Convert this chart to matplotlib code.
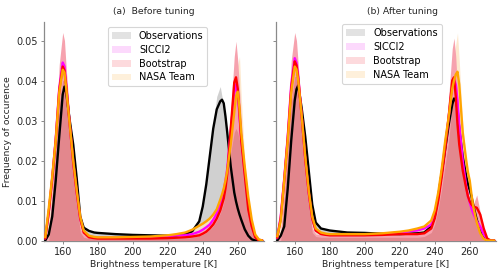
import matplotlib
matplotlib.use("Agg")
import matplotlib.pyplot as plt
from matplotlib.patches import Patch

# Brightness temperature grid [K]
tb = [150, 152, 154, 156, 158, 160, 161, 162, 164, 166, 168, 170, 172, 175, 178,
      180, 190, 200, 210, 220, 225, 230, 234, 238, 240, 242, 244, 246, 248, 250,
      251, 252, 253, 254, 256, 258, 259, 260, 261, 262, 264, 266, 268, 270, 272, 274]

# ---------------- (a) Before tuning ----------------
a_obs = [0.0, 0.0015, 0.006, 0.015, 0.026,
         0.0365, 0.0385, 0.037, 0.030, 0.024,
         0.0155, 0.006, 0.0032, 0.0024, 0.002,
         0.0019, 0.0016, 0.0014, 0.0013, 0.0012,
         0.0013, 0.0016, 0.0023, 0.0048, 0.0085,
         0.014, 0.021, 0.028, 0.0328, 0.0348,
         0.0352, 0.0343, 0.031, 0.027, 0.0185,
         0.012, 0.0098, 0.008, 0.0065, 0.0052,
         0.0028, 0.0012, 0.0003, 0.0, 0.0, 0.0]
a_sicci = [0.0005, 0.007, 0.0155, 0.0255, 0.038,
           0.0445, 0.0435, 0.039, 0.029, 0.0195,
           0.012, 0.0055, 0.0022, 0.001, 0.0008,
           0.0007, 0.0007, 0.0007, 0.0008, 0.001,
           0.0013, 0.0013, 0.0016, 0.0022, 0.0027,
           0.0033, 0.004, 0.0052, 0.0068, 0.009,
           0.0105, 0.0125, 0.015, 0.018, 0.0275,
           0.0368, 0.039, 0.0365, 0.031, 0.0255,
           0.017, 0.009, 0.004, 0.001, 0.0002, 0.0]
a_boot = [0.0005, 0.007, 0.0155, 0.025, 0.0375,
          0.0435, 0.0425, 0.0385, 0.029, 0.0195,
          0.012, 0.0055, 0.002, 0.0008, 0.0006,
          0.0005, 0.0005, 0.0005, 0.0005, 0.0006,
          0.0007, 0.0008, 0.001, 0.0013, 0.0017,
          0.0022, 0.003, 0.004, 0.0055, 0.0075,
          0.009, 0.0105, 0.013, 0.0165, 0.028,
          0.0395, 0.0408, 0.038, 0.032, 0.025,
          0.0165, 0.0078, 0.0035, 0.0008, 0.0, 0.0]
a_nasa = [0.0008, 0.008, 0.016, 0.025, 0.037,
          0.0427, 0.042, 0.038, 0.029, 0.020,
          0.0125, 0.006, 0.0025, 0.0012, 0.0009,
          0.0008, 0.0008, 0.0009, 0.001, 0.0013,
          0.0016, 0.002, 0.0027, 0.0037, 0.0042,
          0.0048, 0.0055, 0.0065, 0.0078, 0.0102,
          0.0115, 0.013, 0.015, 0.0175, 0.024,
          0.032, 0.036, 0.0372, 0.033, 0.027,
          0.0185, 0.011, 0.0052, 0.0015, 0.0003, 0.0]
# shaded histogram envelopes
a_obs_hist = [0.0, 0.001, 0.006, 0.016, 0.028,
              0.039, 0.040, 0.038, 0.031, 0.024,
              0.015, 0.006, 0.0035, 0.0025, 0.002,
              0.0019, 0.0016, 0.0014, 0.0013, 0.0012,
              0.0013, 0.0016, 0.0024, 0.005, 0.009,
              0.015, 0.022, 0.029, 0.036, 0.0385,
              0.036, 0.034, 0.031, 0.027, 0.0185,
              0.012, 0.010, 0.0085, 0.007, 0.0055,
              0.003, 0.0012, 0.0003, 0.0, 0.0, 0.0]
a_boot_hist = [0.0, 0.002, 0.013, 0.027, 0.044,
               0.052, 0.050, 0.043, 0.031, 0.021,
               0.012, 0.003, 0.0015, 0.0008, 0.0006,
               0.0006, 0.0006, 0.0006, 0.0007, 0.0008,
               0.001, 0.0012, 0.0015, 0.002, 0.0025,
               0.003, 0.004, 0.005, 0.007, 0.009,
               0.011, 0.013, 0.016, 0.020, 0.032,
               0.046, 0.0498, 0.045, 0.038, 0.030,
               0.018, 0.009, 0.004, 0.001, 0.0, 0.0]
a_nasa_hist = [0.0005, 0.007, 0.016, 0.026, 0.040,
               0.047, 0.046, 0.041, 0.030, 0.020,
               0.012, 0.004, 0.002, 0.001, 0.0008,
               0.0008, 0.0008, 0.0009, 0.001, 0.0013,
               0.0016, 0.002, 0.0027, 0.0037, 0.0042,
               0.0048, 0.0055, 0.0065, 0.008, 0.010,
               0.0115, 0.013, 0.015, 0.018, 0.026,
               0.038, 0.043, 0.044, 0.046, 0.036,
               0.020, 0.011, 0.005, 0.0015, 0.0, 0.0]
a_overlap = [0.0, 0.0, 0.010, 0.022, 0.034,
             0.040, 0.040, 0.036, 0.027, 0.018,
             0.010, 0.002, 0.0008, 0.0005, 0.0005,
             0.0005, 0.0005, 0.0005, 0.0005, 0.0005,
             0.0005, 0.0005, 0.0008, 0.0012, 0.0015,
             0.002, 0.0027, 0.0036, 0.005, 0.0068,
             0.008, 0.0095, 0.012, 0.015, 0.022,
             0.027, 0.028, 0.027, 0.025, 0.021,
             0.015, 0.007, 0.003, 0.0005, 0.0, 0.0]

# ---------------- (b) After tuning ----------------
b_obs = [0.0, 0.0012, 0.0035, 0.013, 0.025,
         0.035, 0.0378, 0.0388, 0.033, 0.026,
         0.0175, 0.009, 0.0045, 0.003, 0.0027,
         0.0025, 0.002, 0.0019, 0.0017, 0.0016,
         0.0017, 0.0018, 0.002, 0.0035, 0.006,
         0.011, 0.017, 0.023, 0.029, 0.034,
         0.0355, 0.035, 0.033, 0.028, 0.021,
         0.016, 0.014, 0.0126, 0.011, 0.0088,
         0.0052, 0.0025, 0.0008, 0.0, 0.0, 0.0]
b_sicci = [0.0006, 0.006, 0.0155, 0.026, 0.039,
           0.0456, 0.0445, 0.041, 0.031, 0.0205,
           0.012, 0.0055, 0.0025, 0.0017, 0.0015,
           0.0014, 0.0014, 0.0014, 0.0016, 0.002,
           0.0023, 0.0025, 0.003, 0.004, 0.0065,
           0.011, 0.017, 0.024, 0.031, 0.0385,
           0.0402, 0.039, 0.035, 0.029, 0.020,
           0.0135, 0.011, 0.0095, 0.008, 0.0068,
           0.0048, 0.0035, 0.0015, 0.0002, 0.0, 0.0]
b_boot = [0.0007, 0.0055, 0.015, 0.0255, 0.038,
          0.0448, 0.0438, 0.0405, 0.031, 0.0205,
          0.012, 0.0055, 0.0025, 0.0016, 0.0014,
          0.0013, 0.0013, 0.0013, 0.0014, 0.0016,
          0.0016, 0.0016, 0.0018, 0.003, 0.0055,
          0.010, 0.016, 0.023, 0.031, 0.040,
          0.0408, 0.036, 0.029, 0.024, 0.0175,
          0.013, 0.011, 0.0098, 0.009, 0.0085,
          0.0082, 0.0065, 0.003, 0.0005, 0.0, 0.0]
b_nasa = [0.001, 0.005, 0.015, 0.025, 0.037,
          0.0435, 0.0428, 0.040, 0.031, 0.021,
          0.0125, 0.006, 0.003, 0.002, 0.0017,
          0.0016, 0.0016, 0.0016, 0.0018, 0.0022,
          0.0025, 0.003, 0.0035, 0.005, 0.0075,
          0.012, 0.018, 0.025, 0.031, 0.038,
          0.040, 0.0415, 0.0422, 0.039, 0.027,
          0.020, 0.017, 0.015, 0.0115, 0.0085,
          0.0045, 0.0018, 0.0004, 0.0, 0.0, 0.0]
b_obs_hist = [0.0, 0.001, 0.004, 0.014, 0.027,
              0.038, 0.040, 0.039, 0.033, 0.026,
              0.017, 0.009, 0.0045, 0.003, 0.0027,
              0.0025, 0.002, 0.0019, 0.0017, 0.0016,
              0.0017, 0.0018, 0.002, 0.0035, 0.006,
              0.011, 0.017, 0.024, 0.031, 0.038,
              0.039, 0.037, 0.034, 0.028, 0.021,
              0.016, 0.014, 0.0126, 0.011, 0.0088,
              0.0052, 0.0025, 0.0008, 0.0, 0.0, 0.0]
b_boot_hist = [0.0, 0.002, 0.013, 0.028, 0.045,
               0.052, 0.050, 0.044, 0.032, 0.021,
               0.012, 0.003, 0.0016, 0.0014, 0.0013,
               0.0013, 0.0013, 0.0013, 0.0014, 0.0016,
               0.0016, 0.0016, 0.0018, 0.003, 0.005,
               0.010, 0.017, 0.026, 0.036, 0.048,
               0.0506, 0.046, 0.038, 0.030, 0.020,
               0.014, 0.012, 0.010, 0.009, 0.009,
               0.0114, 0.007, 0.003, 0.0005, 0.0, 0.0]
b_nasa_hist = [0.001, 0.005, 0.015, 0.025, 0.040,
               0.048, 0.046, 0.042, 0.031, 0.021,
               0.012, 0.005, 0.003, 0.002, 0.0017,
               0.0016, 0.0016, 0.0016, 0.0018, 0.0022,
               0.0025, 0.003, 0.0035, 0.005, 0.0075,
               0.012, 0.018, 0.026, 0.033, 0.042,
               0.046, 0.049, 0.0519, 0.045, 0.029,
               0.020, 0.017, 0.015, 0.0115, 0.0085,
               0.0045, 0.0018, 0.0004, 0.0, 0.0, 0.0]
b_overlap = [0.0, 0.0, 0.010, 0.022, 0.034,
             0.041, 0.041, 0.038, 0.029, 0.019,
             0.010, 0.002, 0.001, 0.0008, 0.0008,
             0.0008, 0.0008, 0.0008, 0.0008, 0.0008,
             0.0008, 0.0008, 0.001, 0.002, 0.004,
             0.008, 0.013, 0.019, 0.025, 0.034,
             0.036, 0.035, 0.032, 0.027, 0.018,
             0.012, 0.010, 0.0085, 0.0075, 0.0065,
             0.0055, 0.003, 0.001, 0.0, 0.0, 0.0]

titles = ["(a)  Before tuning", "(b) After tuning"]
labels = ["Observations", "SICCI2", "Bootstrap", "NASA Team"]
line_colors = ["black", "#ff00ff", "#ff0000", "#ffa500"]
patch_colors = ["#e2e2e2", "#fcd9fc", "#fddadd", "#fef0db"]

panels = [
    dict(lines=[a_obs, a_sicci, a_boot, a_nasa], gray=a_obs_hist, pink=a_boot_hist,
         wheat=a_nasa_hist, bulk=a_overlap),
    dict(lines=[b_obs, b_sicci, b_boot, b_nasa], gray=b_obs_hist, pink=b_boot_hist,
         wheat=b_nasa_hist, bulk=b_overlap),
]

fig = plt.figure(figsize=(5.0, 2.73), dpi=100)
ax_a = fig.add_axes([0.088, 0.119, 0.44, 0.80])
ax_b = fig.add_axes([0.552, 0.119, 0.44, 0.80])
axes = [ax_a, ax_b]

fs = 6.7
fs_tick = 7
for i, (ax, p) in enumerate(zip(axes, panels)):
    ax.fill_between(tb, 0, p["gray"], color="#d0d0d0", lw=0, zorder=1)
    ax.fill_between(tb, 0, p["wheat"], color="#fde3c2", alpha=0.8, lw=0, zorder=2)
    ax.fill_between(tb, 0, p["pink"], color="#f6a2ae", lw=0, zorder=3)
    ax.fill_between(tb, 0, p["bulk"], color="#e3878d", lw=0, zorder=4)
    for k, (vals, c) in enumerate(zip(p["lines"], line_colors)):
        ax.plot(tb, vals, color=c, lw=1.7, zorder=5 + k,
                solid_capstyle="round", solid_joinstyle="round")

    ax.set_xlim(149.3, 275)
    ax.set_ylim(0, 0.0546)
    ax.set_xticks([160, 180, 200, 220, 240, 260])
    ax.set_yticks([0.0, 0.01, 0.02, 0.03, 0.04, 0.05])
    for s in ["top", "right"]:
        ax.spines[s].set_visible(False)
    for s in ["left", "bottom"]:
        ax.spines[s].set_color("#8a8a8a")
        ax.spines[s].set_linewidth(0.9)
    ax.tick_params(labelsize=fs_tick, length=2.5, width=0.7, color="#8a8a8a",
                   labelcolor="#262626", pad=2)
    ax.set_xlabel("Brightness temperature [K]", fontsize=fs, color="#262626", labelpad=2)

    handles = [Patch(facecolor=pc, edgecolor="none") for pc in patch_colors]
    leg = ax.legend(handles, labels, loc="upper left",
                    bbox_to_anchor=(0.29 if i == 0 else 0.30, 0.978 if i == 0 else 0.99),
                    borderaxespad=0, fontsize=fs_tick, frameon=True, handlelength=2.0,
                    labelspacing=0.4, handletextpad=0.8, borderpad=0.4)
    leg.get_frame().set_edgecolor("#cccccc")
    leg.get_frame().set_linewidth(0.8)
    leg.set_zorder(20)

ax_a.set_title(titles[0], fontsize=fs, color="#262626", pad=6)
ax_b.set_title(titles[1], fontsize=fs, color="#262626", pad=6, x=0.577)
ax_a.set_ylabel("Frequency of occurence", fontsize=fs, color="#262626")
ax_a.yaxis.set_label_coords(-0.145, 0.5)
ax_b.set_yticklabels([])

fig.savefig("out.png", dpi=100)
